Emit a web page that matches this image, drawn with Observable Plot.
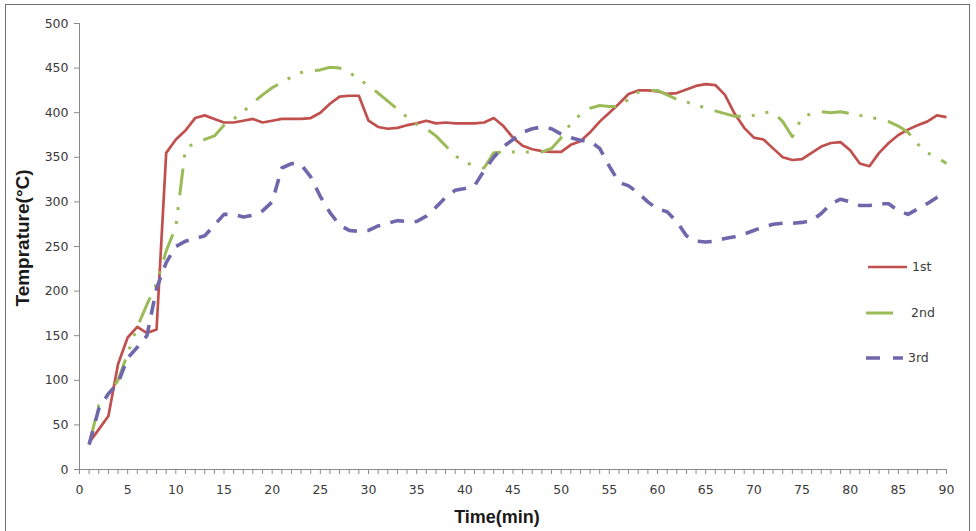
<!DOCTYPE html>
<html><head><meta charset="utf-8">
<script src="https://cdn.jsdelivr.net/npm/d3@7"></script>
<script src="https://cdn.jsdelivr.net/npm/@observablehq/plot@0.6"></script>
<style>
body{margin:0;background:#fff;}
#wrap{position:relative;width:976px;height:531px;overflow:hidden;background:#fff;}
#frame{position:absolute;left:5px;top:4px;width:965px;height:560px;border:1px solid #6f6f6f;box-sizing:border-box;pointer-events:none;}
#chart{position:absolute;left:0;top:0;}
.ttl{position:absolute;font-family:"Liberation Sans",Arial,sans-serif;font-weight:bold;color:#1a1a1a;white-space:nowrap;}
#xt{left:0;width:994px;top:507px;text-align:center;font-size:18px;}
#yt{left:23px;top:238px;font-size:19px;transform:translate(-50%,-50%) rotate(-90deg);}
#legend{position:absolute;left:0;top:0;}
</style></head><body>
<div id="wrap"><div id="chart"></div><div id="frame"></div>
<div class="ttl" id="xt">Time(min)</div>
<div class="ttl" id="yt">Temprature(°C)</div>
<svg id="legend" width="976" height="531"></svg>
</div>
<script>
const time = [1,2,3,4,5,6,7,8,9,10,11,12,13,14,15,16,17,18,19,20,21,22,23,24,25,26,27,28,29,30,
31,32,33,34,35,36,37,38,39,40,41,42,43,44,45,46,47,48,49,50,51,52,53,54,55,56,57,58,59,60,
61,62,63,64,65,66,67,68,69,70,71,72,73,74,75,76,77,78,79,80,81,82,83,84,85,86,87,88,89,90];

const first = [30,45,60,118,148,160,153,157,355,370,380,394,397,393,389,389,391,393,389,391,393,393,393,394,400,410,418,419,419,391,
384,382,383,386,388,391,388,389,388,388,388,389,394,385,372,363,359,357,356,356,364,368,378,390,400,410,421,425,425,424,
421,422,426,430,432,431,420,399,383,372,370,360,350,347,348,355,362,366,367,358,343,340,355,366,375,381,386,390,397,395];

const second = [28,72,85,100,130,160,185,208,245,272,360,366,370,374,386,393,401,411,420,428,434,440,445,447,448,451,450,445,438,430,
422,413,404,395,387,382,374,363,352,344,341,338,355,356,356,356,356,356,360,372,388,398,405,408,407,407,415,423,425,425,
420,415,412,409,405,402,399,396,396,397,400,401,390,373,395,399,401,400,401,399,397,395,393,390,385,378,365,355,350,343];

const third = [28,68,85,97,125,137,150,203,232,250,256,259,262,274,286,286,283,285,290,300,338,343,342,328,306,288,274,268,267,268,
273,276,279,278,278,284,294,305,313,315,318,335,350,362,370,378,382,384,382,376,372,369,368,360,340,322,318,310,300,292,
289,278,262,256,255,256,259,261,264,268,272,275,276,276,277,279,287,298,303,300,296,296,298,298,290,286,292,298,305,311];

const seriesNames = ["1st","2nd","3rd"];
const seriesColors = ["#C0504D","#9BBB59","#6F67AB"];
const seriesDash = [null,"27 11 3 11 3 12","14 10.5"];
const seriesWidth = [2.7,3,3.6];

const yTicks = [0,50,100,150,200,250,300,350,400,450,500];
const xLabelTicks = [0,5,10,15,20,25,30,35,40,45,50,55,60,65,70,75,80,85,90];
const xMinorTicks = [0,1,2,3,4,5,6,7,8,9,10,11,12,13,14,15,16,17,18,19,20,21,22,23,24,25,26,27,28,29,30,
31,32,33,34,35,36,37,38,39,40,41,42,43,44,45,46,47,48,49,50,51,52,53,54,55,56,57,58,59,60,
61,62,63,64,65,66,67,68,69,70,71,72,73,74,75,76,77,78,79,80,81,82,83,84,85,86,87,88,89,90];

const values = [first, second, third];
const rows = seriesNames.map((name, s) => time.map((t, i) => ({time: t, temp: values[s][i], series: name})));

const axisColor = "#8a8a8a";
const textColor = "#3a3a3a";

const plot = Plot.plot({
  width: 976, height: 531,
  marginLeft: 79, marginRight: 30, marginTop: 23, marginBottom: 62,
  style: {fontFamily: "DejaVu Sans, sans-serif", fontSize: "12.5px", background: "transparent"},
  x: {domain: [0, 90]},
  y: {domain: [0, 500]},
  marks: [
    Plot.axisY({ticks: yTicks, tickSize: 5, tickPadding: 6, label: null, stroke: axisColor, fill: textColor}),
    Plot.axisX({ticks: xMinorTicks, tickSize: 5, tickFormat: () => "", label: null, stroke: axisColor}),
    Plot.axisX({ticks: xLabelTicks, tickSize: 0, tickPadding: 16, label: null, fill: textColor}),
    Plot.ruleX([0], {stroke: axisColor}),
    Plot.ruleY([0], {stroke: axisColor}),
    ...rows.map((r, s) => Plot.line(r, {
      x: "time", y: "temp",
      stroke: seriesColors[s], strokeWidth: seriesWidth[s],
      strokeDasharray: seriesDash[s], strokeLinejoin: "round", strokeLinecap: "butt"
    }))
  ]
});
document.getElementById("chart").appendChild(plot);

// legend
const lg = d3.select("#legend");
const legY = [267, 313, 358];
const legX1 = [868, 866, 866];
const legX2 = [907, 893, 903];
const legTX = [912, 911, 908];
seriesNames.forEach((name, s) => {
  lg.append("line").attr("x1", legX1[s]).attr("x2", legX2[s]).attr("y1", legY[s]).attr("y2", legY[s])
    .attr("stroke", seriesColors[s]).attr("stroke-width", seriesWidth[s])
    .attr("stroke-dasharray", s === 2 ? "14 13" : null);
  lg.append("text").attr("x", legTX[s]).attr("y", legY[s]).attr("dy", "0.35em")
    .attr("font-family", "DejaVu Sans, sans-serif").attr("font-size", "12.5px").attr("fill", textColor)
    .text(name);
});
</script>
</body></html>
